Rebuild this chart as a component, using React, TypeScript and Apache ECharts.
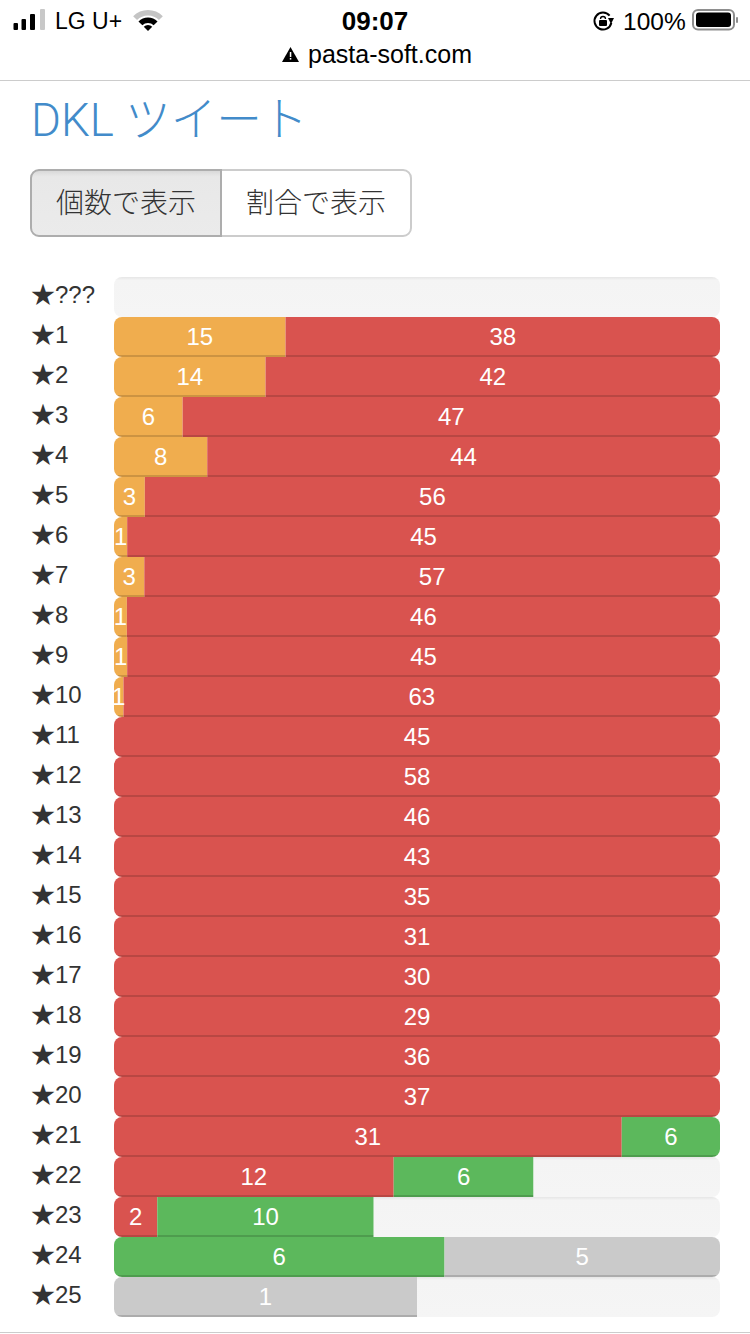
import React, { useEffect, useRef } from "react";
import * as echarts from "echarts";

// Row labels, top to bottom
const categories = ["★???", "★1", "★2", "★3", "★4", "★5", "★6", "★7", "★8", "★9", "★10", "★11", "★12", "★13", "★14", "★15", "★16", "★17", "★18", "★19", "★20", "★21", "★22", "★23", "★24", "★25"];

// Counts printed in each coloured segment
const orangeCounts = [0, 15, 14, 6, 8, 3, 1, 3, 1, 1, 1, 0, 0, 0, 0, 0, 0, 0, 0, 0, 0, 0, 0, 0, 0, 0];
const redCounts = [0, 38, 42, 47, 44, 56, 45, 57, 46, 45, 63, 45, 58, 46, 43, 35, 31, 30, 29, 36, 37, 31, 12, 2, 0, 0];
const greenCounts = [0, 0, 0, 0, 0, 0, 0, 0, 0, 0, 0, 0, 0, 0, 0, 0, 0, 0, 0, 0, 0, 6, 6, 10, 6, 0];
const greyCounts = [0, 0, 0, 0, 0, 0, 0, 0, 0, 0, 0, 0, 0, 0, 0, 0, 0, 0, 0, 0, 0, 0, 0, 0, 5, 1];
// Unfilled part of each track in the same units as the row's counts
const unfilledCounts = [1, 0, 0, 0, 0, 0, 0, 0, 0, 0, 0, 0, 0, 0, 0, 0, 0, 0, 0, 0, 0, 0, 8, 16, 0, 1];

const LATIN = '"Liberation Sans", "Noto Sans CJK JP", sans-serif';
const CJK = '"Liberation Sans", "Noto Sans CJK JP", sans-serif';
const LIGHT = 'Roboto, "Noto Sans CJK JP", sans-serif';

const vertical = (stops: [number, string][]) =>
  new echarts.graphic.LinearGradient(0, 0, 0, 1, stops.map(([offset, color]) => ({ offset, color })));

const solidWithBase = (main: string, base: string) =>
  vertical([[0, main], [0.95, main], [0.95, base], [1, base]]);

const allRows = [orangeCounts, redCounts, greenCounts, greyCounts, unfilledCounts];
const rowTotal = (i: number) => allRows.reduce((s, a) => s + a[i], 0);
const firstIndex = (i: number) => allRows.findIndex((a) => a[i] > 0);
const lastIndex = (i: number) => {
  let k = -1;
  allRows.forEach((a, j) => { if (a[i] > 0) k = j; });
  return k;
};

function segment(name: string, seriesIndex: number, counts: number[], color: any, labelled: boolean) {
  return {
    name,
    type: "bar",
    stack: "rows",
    barWidth: 40,
    silent: true,
    data: counts.map((c, i) => ({
      value: (c / rowTotal(i)) * 100,
      itemStyle: {
        color,
        borderRadius: [
          firstIndex(i) === seriesIndex ? 8 : 0,
          lastIndex(i) === seriesIndex ? 8 : 0,
          lastIndex(i) === seriesIndex ? 8 : 0,
          firstIndex(i) === seriesIndex ? 8 : 0,
        ],
      },
      label: {
        show: labelled && c > 0,
        formatter: String(c),
        position: "inside",
        offset: [0, -1],
        color: "#fff",
        fontSize: 24,
        fontFamily: LATIN,
      },
    })),
  };
}

function headerGraphics() {
  const txt = (x: number, y: number, text: string, fontSize: number, fill: string, align = "left", extra: any = {}, el: any = {}) => ({
    type: "text",
    x,
    y,
    ...el,
    style: { text, fontSize, fill, align, verticalAlign: "middle", fontFamily: LATIN, ...extra },
  });
  const sector = (r0: number, r: number, fill: string) => ({
    type: "sector",
    shape: { cx: 148, cy: 31, r0, r, startAngle: (-3 * Math.PI) / 4, endAngle: -Math.PI / 4 },
    style: { fill },
  });
  const lockStroke = { stroke: "#000", lineWidth: 2, fill: "none" };
  return [
    // signal
    { type: "rect", shape: { x: 13.5, y: 23, width: 4.5, height: 7, r: 1 }, style: { fill: "#000" } },
    { type: "rect", shape: { x: 21.5, y: 19, width: 4.5, height: 11, r: 1 }, style: { fill: "#000" } },
    { type: "rect", shape: { x: 30, y: 14, width: 5, height: 16, r: 1 }, style: { fill: "#000" } },
    { type: "rect", shape: { x: 40, y: 9, width: 5, height: 21, r: 1 }, style: { fill: "#c8c8c8" } },
    txt(55, 21, "LG U+", 23, "#000"),
    // wifi
    sector(15.5, 21, "#c4c4c4"),
    sector(8, 13.5, "#000"),
    sector(0, 6, "#000"),
    txt(375, 21, "09:07", 26, "#000", "center", { fontWeight: "bold" }),
    // rotation lock
    { type: "arc", shape: { cx: 603, cy: 21, r: 8.5, startAngle: 0.2, endAngle: 5.6 }, style: lockStroke },
    { type: "polygon", shape: { points: [[608, 18], [614, 18], [611, 24]] }, style: { fill: "#000" } },
    { type: "rect", shape: { x: 599, y: 20, width: 8, height: 6, r: 1 }, style: { fill: "#000" } },
    { type: "arc", shape: { cx: 603, cy: 19, r: 2.5, startAngle: Math.PI, endAngle: 0 }, style: { stroke: "#000", lineWidth: 1.3, fill: "none" } },
    txt(623, 21, "100%", 24.5, "#000"),
    // battery
    { type: "rect", shape: { x: 693, y: 10, width: 41, height: 19.5, r: 5 }, style: { fill: "#fff", stroke: "#8e8e8e", lineWidth: 2 } },
    { type: "rect", shape: { x: 696, y: 12.5, width: 35, height: 14.5, r: 3 }, style: { fill: "#000" } },
    { type: "rect", shape: { x: 736, y: 17, width: 2, height: 6, r: 1 }, style: { fill: "#8e8e8e" } },
    // address bar
    { type: "polygon", shape: { points: [[290.5, 47], [299, 62], [282, 62]] }, style: { fill: "#000" } },
    { type: "rect", shape: { x: 289.8, y: 52, width: 1.5, height: 5 }, style: { fill: "#fff" } },
    { type: "rect", shape: { x: 289.8, y: 58, width: 1.5, height: 1.6 }, style: { fill: "#fff" } },
    txt(390, 54, "pasta-soft.com", 25, "#000", "center"),
    { type: "rect", shape: { x: 0, y: 80, width: 750, height: 1 }, style: { fill: "#cccccc" } },
    // heading
    txt(31, 120, "DKL ツイート", 47, "#428bca", "left", { fontFamily: LIGHT, fontWeight: 300 }, { scaleX: 0.972 }),
    // toggle buttons
    { type: "rect", shape: { x: 221, y: 170, width: 190, height: 66, r: [0, 8, 8, 0] }, style: { fill: "#fff", stroke: "#cccccc", lineWidth: 2 } },
    {
      type: "rect",
      shape: { x: 31, y: 170, width: 190, height: 66, r: [8, 0, 0, 8] },
      style: { fill: vertical([[0, "#d6d6d6"], [0.1, "#e8e8e8"], [1, "#ebebeb"]]), stroke: "#adadad", lineWidth: 2 },
    },
    txt(126, 203, "個数で表示", 28, "#333", "center", { fontFamily: CJK, fontWeight: 300 }),
    txt(316, 203, "割合で表示", 28, "#333", "center", { fontFamily: CJK, fontWeight: 300 }),
    // page foot rule
    { type: "rect", shape: { x: 0, y: 1332, width: 750, height: 1 }, style: { fill: "#cccccc" } },
  ];
}

export default function App() {
  const ref = useRef<HTMLDivElement>(null);
  useEffect(() => {
    document.body.style.margin = "0";
    const chart = echarts.init(ref.current!, null, { renderer: "svg" });
    chart.setOption({
      animation: false,
      backgroundColor: "#fff",
      grid: { left: 114, right: 30, top: 277, height: 1040, containLabel: false },
      xAxis: { type: "value", min: 0, max: 100, show: false },
      yAxis: {
        type: "category",
        inverse: true,
        data: categories,
        axisLine: { show: false },
        axisTick: { show: false },
        splitLine: { show: false },
        axisLabel: {
          interval: 0,
          align: "left",
          verticalAlign: "bottom",
          lineHeight: 6,
          margin: 83,
          fontSize: 24,
          color: "#333",
          fontFamily: LATIN,
        },
      },
      series: [
        segment("orange", 0, orangeCounts, solidWithBase("#f0ad4e", "#cc9342"), true),
        segment("red", 1, redCounts, solidWithBase("#d9534f", "#b84743"), true),
        segment("green", 2, greenCounts, solidWithBase("#5cb85c", "#4e9c4e"), true),
        segment("grey", 3, greyCounts, solidWithBase("#cacaca", "#acacac"), true),
        segment("unfilled", 4, unfilledCounts, vertical([[0, "#e6e6e6"], [0.08, "#f4f4f4"], [1, "#f5f5f5"]]), false),
      ],
      graphic: { elements: headerGraphics() },
    });
    return () => chart.dispose();
  }, []);
  return <div ref={ref} style={{ width: 750, height: 1334 }} />;
}
